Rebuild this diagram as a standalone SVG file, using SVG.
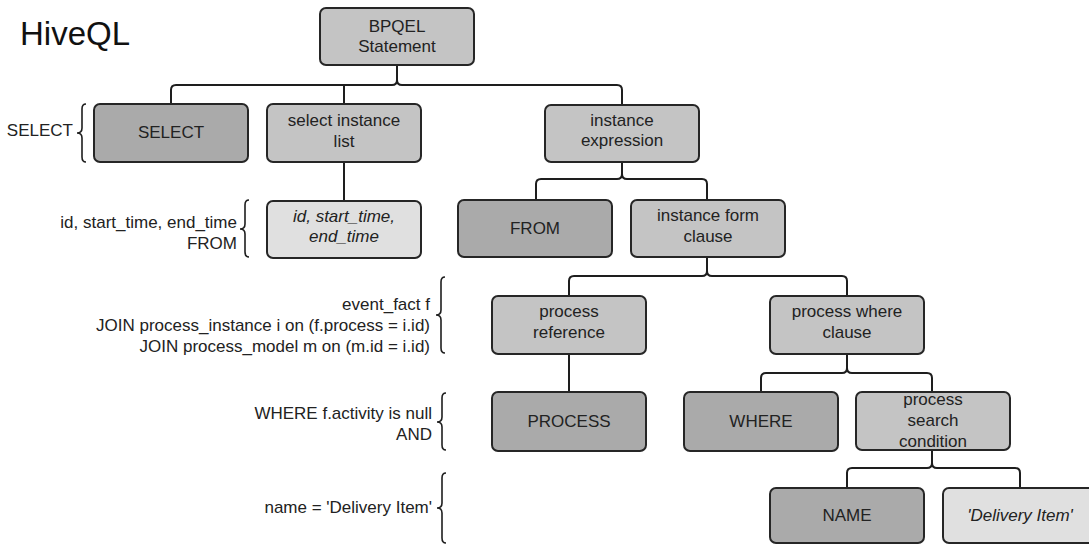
<svg xmlns="http://www.w3.org/2000/svg" width="1089" height="545" viewBox="0 0 1089 545">
<style>
  .box rect { stroke: #262626; stroke-width: 2; rx: 6; ry: 6; }
  .dark rect { fill: #aaaaaa; }
  .mid rect { fill: #c4c4c4; }
  .light rect { fill: #e0e0e0; }
  text { font-family: "Liberation Sans", Arial, sans-serif; font-size: 17px; fill: #222222; }
  .box text { text-anchor: middle; }
  .it { font-style: italic; }
  .side { text-anchor: end; }
  .title { font-size: 33px; fill: #111111; }
  .conn path { fill: none; stroke: #1e1e1e; stroke-width: 2; }
  .brace path { fill: none; stroke: #1e1e1e; stroke-width: 1.6; }
</style>
<rect width="1089" height="545" fill="#ffffff"/>
<text class="title" x="20" y="45">HiveQL</text>

<g id="connectors" class="conn">
  <path d="M397,65 V80 Q397,85 402,85 H617 Q622,85 622,90 V105"/>
  <path d="M397,80 Q397,85 392,85 H176 Q171,85 171,90 V104"/>
  <path d="M344,85 V104"/>
  <path d="M344,162 V201"/>
  <path d="M622,162 V174 Q622,179 627,179 H702 Q707,179 707,184 V200"/>
  <path d="M622,174 Q622,179 617,179 H541 Q536,179 536,184 V200"/>
  <path d="M707,257 V271 Q707,276 712,276 H842 Q847,276 847,281 V296"/>
  <path d="M707,271 Q707,276 702,276 H574 Q569,276 569,281 V296"/>
  <path d="M569,354 V392"/>
  <path d="M847,354 V368 Q847,373 852,373 H927 Q932,373 932,378 V392"/>
  <path d="M847,368 Q847,373 842,373 H766 Q761,373 761,378 V392"/>
  <path d="M932,450 V463 Q932,468 937,468 H1015 Q1020,468 1020,473 V488"/>
  <path d="M932,463 Q932,468 927,468 H852 Q847,468 847,473 V488"/>
</g>

<g id="braces" class="brace">
  <path d="M86,104 Q82,104 82,109 V128 Q82,133 77,133 Q82,133 82,138 V157 Q82,162 86,162"/>
  <path d="M249,200 Q245,200 245,205 V224 Q245,229 240,229 Q245,229 245,234 V252 Q245,257 249,257"/>
  <path d="M445,277 Q441,277 441,282 V310 Q441,315 436,315 Q441,315 441,320 V348 Q441,353 445,353"/>
  <path d="M446,393 Q442,393 442,398 V417 Q442,422 437,422 Q442,422 442,427 V445 Q442,450 446,450"/>
  <path d="M446,473 Q442,473 442,478 V503 Q442,508 437,508 Q442,508 442,513 V538 Q442,543 446,543"/>
</g>

<g id="side-labels">
  <text class="side" x="73" y="136">SELECT</text>
  <text class="side" x="237" y="228">id, start_time, end_time</text>
  <text class="side" x="237" y="249">FROM</text>
  <text class="side" x="430" y="310">event_fact f</text>
  <text class="side" x="430" y="331">JOIN process_instance i on (f.process = i.id)</text>
  <text class="side" x="430" y="352">JOIN process_model m on (m.id = i.id)</text>
  <text class="side" x="432" y="419">WHERE f.activity is null</text>
  <text class="side" x="432" y="440">AND</text>
  <text class="side" x="432" y="513">name = 'Delivery Item'</text>
</g>

<g id="n-bpqel" class="box mid">
  <rect x="320" y="8" width="154" height="57"/>
  <text x="397" y="32">BPQEL</text>
  <text x="397" y="52">Statement</text>
</g>
<g id="n-select" class="box dark">
  <rect x="94" y="104" width="154" height="58"/>
  <text x="171" y="138">SELECT</text>
</g>
<g id="n-select-list" class="box mid">
  <rect x="267" y="104" width="154" height="58"/>
  <text x="344" y="126">select instance</text>
  <text x="344" y="147">list</text>
</g>
<g id="n-instance-expr" class="box mid">
  <rect x="545" y="105" width="154" height="57"/>
  <text x="622" y="126">instance</text>
  <text x="622" y="146">expression</text>
</g>
<g id="n-id-list" class="box light">
  <rect x="267" y="201" width="154" height="57"/>
  <text class="it" x="344" y="222">id, start_time,</text>
  <text class="it" x="344" y="242">end_time</text>
</g>
<g id="n-from" class="box dark">
  <rect x="458" y="200" width="154" height="57"/>
  <text x="535" y="234">FROM</text>
</g>
<g id="n-instance-form" class="box mid">
  <rect x="631" y="200" width="154" height="57"/>
  <text x="708" y="221">instance form</text>
  <text x="708" y="242">clause</text>
</g>
<g id="n-process-ref" class="box mid">
  <rect x="492" y="296" width="154" height="58"/>
  <text x="569" y="317">process</text>
  <text x="569" y="338">reference</text>
</g>
<g id="n-process-where" class="box mid">
  <rect x="770" y="296" width="154" height="58"/>
  <text x="847" y="317">process where</text>
  <text x="847" y="338">clause</text>
</g>
<g id="n-process" class="box dark">
  <rect x="492" y="392" width="154" height="59"/>
  <text x="569" y="427">PROCESS</text>
</g>
<g id="n-where" class="box dark">
  <rect x="684" y="392" width="154" height="59"/>
  <text x="761" y="427">WHERE</text>
</g>
<g id="n-search-cond" class="box mid">
  <rect x="856" y="392" width="154" height="58"/>
  <text x="933" y="405">process</text>
  <text x="933" y="426">search</text>
  <text x="933" y="447">condition</text>
</g>
<g id="n-name" class="box dark">
  <rect x="770" y="488" width="154" height="55"/>
  <text x="847" y="521">NAME</text>
</g>
<g id="n-delivery" class="box light">
  <rect x="943" y="488" width="154" height="55"/>
  <text class="it" x="1020" y="521">'Delivery Item'</text>
</g>
</svg>
